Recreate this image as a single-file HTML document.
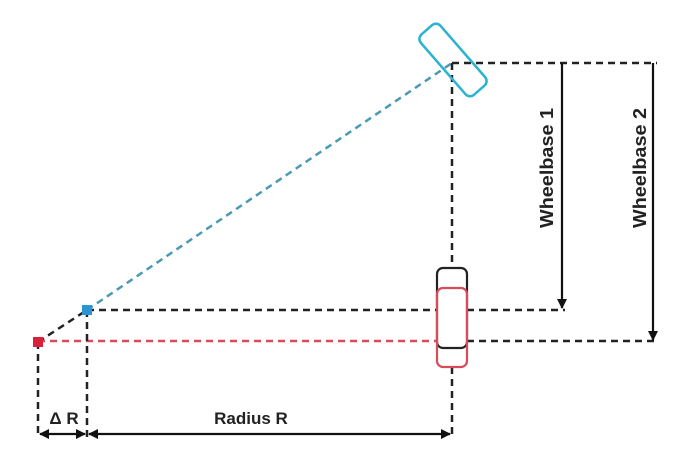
<!DOCTYPE html>
<html><head><meta charset="utf-8"><style>
html,body{margin:0;padding:0;background:#fff;width:700px;height:456px;overflow:hidden}
svg{display:block}
text{font-family:"Liberation Sans",sans-serif;font-weight:bold;fill:#222;font-size:17px}
</style></head><body>
<svg width="700" height="456" viewBox="0 0 700 456" xmlns="http://www.w3.org/2000/svg">
<defs>
<marker id="ah" viewBox="0 0 10 10" refX="9" refY="5" markerWidth="10" markerHeight="10" markerUnits="userSpaceOnUse" orient="auto-start-reverse"><path d="M0,0 L10,5 L0,10 z" fill="#111"/></marker>
</defs>
<g fill="none" stroke-width="2.5" stroke-dasharray="7,5">
<line x1="87" y1="310" x2="452" y2="63" stroke="#4a9ab5"/>
<line x1="38" y1="342" x2="87" y2="310" stroke="#222"/>
<line x1="87" y1="310" x2="437" y2="310" stroke="#222"/>
<line x1="467" y1="310" x2="565" y2="310" stroke="#222"/>
<line x1="38" y1="341" x2="437" y2="341" stroke="#d94a5a"/>
<line x1="467" y1="341" x2="657" y2="341" stroke="#222"/>
<line x1="452" y1="63" x2="657" y2="63" stroke="#222"/>
<line x1="452" y1="63" x2="452" y2="268" stroke="#222"/>
<line x1="452" y1="367" x2="452" y2="437" stroke="#222"/>
<line x1="38" y1="342" x2="38" y2="437" stroke="#222"/>
<line x1="87" y1="310" x2="87" y2="437" stroke="#222"/>
</g>
<rect x="413" y="47" width="80" height="26" rx="6" transform="rotate(49 453 60)" fill="none" stroke="#2bb3d0" stroke-width="2.5"/>
<rect x="437" y="268" width="30" height="80" rx="6" fill="none" stroke="#222" stroke-width="2.2"/>
<rect x="437" y="288" width="30" height="79" rx="6" fill="none" stroke="#d94a5a" stroke-width="2.2"/>
<rect x="33" y="337" width="10" height="10" fill="#d8203a"/>
<rect x="82" y="305" width="10" height="10" fill="#2a95d0"/>
<g stroke="#111" stroke-width="2.2" marker-end="url(#ah)">
<line x1="562" y1="63" x2="562" y2="308"/>
<line x1="653" y1="63" x2="653" y2="340"/>
</g>
<g stroke="#111" stroke-width="2.2" marker-start="url(#ah)" marker-end="url(#ah)">
<line x1="40" y1="434" x2="85" y2="434"/>
<line x1="89" y1="434" x2="450" y2="434"/>
</g>
<text x="64" y="424" text-anchor="middle">Δ R</text>
<text x="251" y="424" text-anchor="middle">Radius R</text>
<text transform="translate(553 168) rotate(-90)" text-anchor="middle" textLength="120" lengthAdjust="spacingAndGlyphs" style="font-size:18px">Wheelbase 1</text>
<text transform="translate(646 168) rotate(-90)" text-anchor="middle" textLength="120" lengthAdjust="spacingAndGlyphs" style="font-size:18px">Wheelbase 2</text>
</svg>
</body></html>
